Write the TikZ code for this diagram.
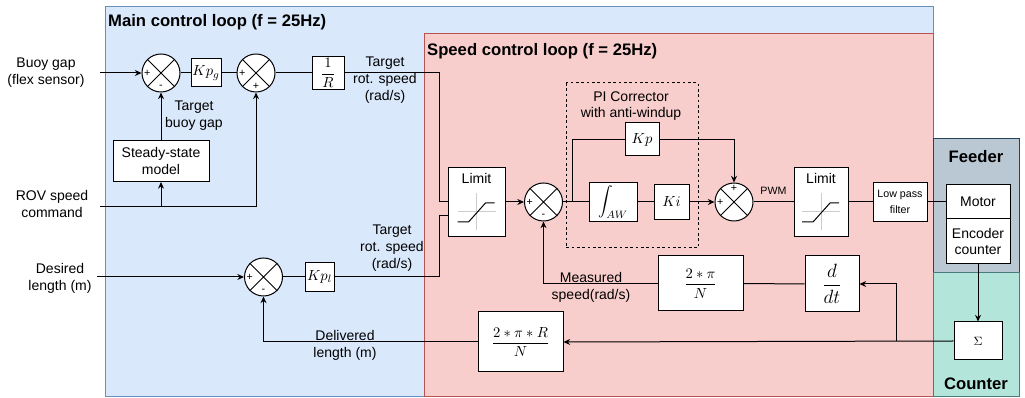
\documentclass[tikz,border=0pt]{standalone}
\usepackage{fontspec}
\setmainfont{Liberation Sans}
\usepackage{amsmath}
\usepackage{tikz}
\usetikzlibrary{arrows.meta}
\definecolor{mainfill}{HTML}{DAE8FC}
\definecolor{maindraw}{HTML}{6C8EBF}
\definecolor{speedfill}{HTML}{F8CECC}
\definecolor{speeddraw}{HTML}{B85450}
\definecolor{feedfill}{HTML}{BAC8D3}
\definecolor{feeddraw}{HTML}{23445D}
\definecolor{cntfill}{HTML}{B3E5DA}
\definecolor{cntdraw}{HTML}{4A7A80}

\begin{document}
\begin{tikzpicture}[x=0.75pt,y=-0.75pt,line width=0.75pt,
    font=\fontsize{10.5}{12.6}\selectfont,
    sum/.style={draw,circle,fill=white,minimum size=28.5pt,inner sep=0pt},
    blk/.style={draw,fill=white,inner sep=0pt,align=center},
    mth/.style={blk,font=\fontsize{11}{13}\selectfont},
    lbl/.style={align=center},
    ttl/.style={font=\fontsize{12.5}{14}\selectfont\bfseries},
    sgn/.style={font=\fontsize{8}{8}\selectfont,inner sep=0pt},
    arr/.style={-{Stealth[length=5pt,width=4.5pt]}}]
\useasboundingbox (0,0) rectangle (1025,398);

% loop areas
\filldraw[fill=mainfill,draw=maindraw] (105,7) rectangle (933,397);
\filldraw[fill=speedfill,draw=speeddraw] (424,34) rectangle (933,397);
\filldraw[fill=feedfill,draw=feeddraw] (933,139) rectangle (1019,273);
\filldraw[fill=cntfill,draw=cntdraw] (933,273) rectangle (1019,397);
\node[ttl,anchor=west,inner sep=2pt] (tmain) at (105,22) {Main control loop (f = 25Hz)};
\node[ttl,anchor=west,inner sep=2pt] (tspeed) at (424,51) {Speed control loop (f = 25Hz)};
\node[ttl] (tfeed) at (976,157) {Feeder};
\node[ttl] (tcnt) at (976,384) {Counter};
\draw[dashed,dash pattern=on 2pt off 2pt] (566,83) rectangle (698,248);

% inputs
\node[lbl] (lbuoy) at (46,73) {Buoy gap\\(flex sensor)};
\node[lbl] (lrov) at (52,204) {ROV speed\\command};
\node[lbl] (ldes) at (60,278) {Desired\\length (m)};
\coordinate (buoy) at (100,73);
\coordinate (rov) at (100,207);
\coordinate (des) at (97,277);

% main loop
\node[sum] (s1) at (161,73) {};
\node[mth,minimum width=22.5pt,minimum height=21pt] (kpg) at (206,73) {$Kp_g$};
\node[sum] (s2) at (256,73) {};
\node[mth,minimum width=24pt,minimum height=24.75pt] (oneR) at (328,73) {$\dfrac{1}{R}$};
\node[blk,minimum width=72pt,minimum height=30.75pt] (ss) at (161,161) {Steady-state\\model};
\node[sum] (s5) at (263.5,277) {};
\node[mth,minimum width=21.75pt,minimum height=21.75pt] (kpl) at (319.5,277) {$Kp_l$};
\node[lbl] (ltbg) at (194,116) {Target\\buoy gap};
\node[lbl] (ltr1) at (385,80) {Target\\rot. speed\\(rad/s)};
\node[lbl] (ltr2) at (392,248) {Target\\rot. speed\\(rad/s)};
\node[lbl] (ldel) at (345,345) {Delivered\\length (m)};

% speed loop
\node[blk,minimum width=42.75pt,minimum height=51.75pt] (lim1) at (476.5,202) {};
\node[below=1pt] at (lim1.north) {Limit};
\node[sum] (s3) at (543.5,202) {};
\node[lbl] (lpi) at (631,106) {PI Corrector\\with anti-windup};
\node[mth,minimum width=25.5pt,minimum height=24.75pt] (kp) at (642,139.5) {$Kp$};
\node[mth,minimum width=36pt,minimum height=29.25pt] (integ) at (613,202) {$\displaystyle\int_{AW}$};
\node[mth,minimum width=26.25pt,minimum height=26.25pt] (ki) at (671.5,202) {$Ki$};
\node[sum] (s4) at (734,202) {};
\node[blk,minimum width=40.5pt,minimum height=51.75pt] (lim2) at (821,202) {};
\node[below=1pt] at (lim2.north) {Limit};
\node[blk,minimum width=40.5pt,minimum height=29.25pt,font=\fontsize{8}{11.5}\selectfont] (lpf) at (900,202) {Low pass\\filter};
\node[blk,minimum width=48pt,minimum height=26.25pt] (motor) at (978,202) {Motor};
\node[blk,minimum width=48pt,minimum height=33.75pt] (enc) at (978,241.5) {Encoder\\counter};
\node[mth,font=\fontsize{9.5}{11}\selectfont,minimum width=36pt,minimum height=28.5pt] (sig) at (978,341) {$\Sigma$};
\node[mth,font=\fontsize{14}{16}\selectfont,minimum width=40.5pt,minimum height=42pt] (ddt) at (832,284) {$\dfrac{d}{dt}$};
\node[mth,font=\fontsize{10.5}{12}\selectfont,minimum width=63.75pt,minimum height=41.25pt] (tpn) at (700.5,283.5) {$\dfrac{2*\pi}{N}$};
\node[mth,font=\fontsize{10.5}{12}\selectfont,minimum width=63.75pt,minimum height=45pt] (rpn) at (520.5,342) {$\dfrac{2*\pi*R}{N}$};
\node[lbl] (lmeas) at (591,287) {Measured\\speed(rad/s)};

% sums: cross and signs
\foreach \s in {s1,s2,s3,s4,s5}
  \draw (\s.north west) -- (\s.south east) (\s.north east) -- (\s.south west);
\foreach \s in {s1,s2,s3,s4,s5}
  \node[sgn,right=1.5pt] at (\s.west) {+};
\foreach \s in {s1,s3,s5}
  \node[sgn,above=2.5pt] at (\s.south) {-};
\node[sgn,above=1.5pt] at (s2.south) {+};
\node[sgn,below=1.5pt] at (s4.north) {+};

% limit curves
\foreach \l in {lim1,lim2} {
  \begin{scope}[shift={(\l.center)}]
    \draw[black!20] (0,-9) -- (0,28) (-19,10) -- (19,10);
    \draw (-19,20) -- (-8,20) -- (9,1) -- (18,1);
  \end{scope}
}

% connections
\coordinate (ta) at (439,73);
\coordinate (tb) at (439,277);
\coordinate (pb) at (572,202);
\coordinate (fb) at (896,341);
\draw[arr] (buoy) -- (s1.west);
\draw (s1.east) -- (kpg.west) (kpg.east) -- (s2.west) (s2.east) -- (oneR.west);
\draw[arr] (ss.north) -- (s1.south);
\draw[arr] (rov) -| (s2.south);
\draw[arr] (ss.south |- rov) -- (ss.south);
\draw[arr] (des) -- (s5.west);
\draw (s5.east) -- (kpl.west);
\draw (oneR.east) -- (ta) |- (lim1.west);
\draw (kpl.east) -- (tb) |- ([yshift=-10.5pt]lim1.west);
\draw[arr] (lim1.east) -- (s3.west);
\draw (s3.east) -- (integ.west) (integ.east) -- (ki.west);
\draw (pb) |- (kp.west);
\draw[arr] (ki.east) -- (s4.west);
\draw[arr] (kp.east) -| (s4.north);
\draw (s4.east) -- node[above=2pt,font=\fontsize{8}{9}\selectfont] (lpwm) {PWM} (lim2.west);
\draw (lim2.east) -- (lpf.west) (lpf.east) -- (motor.west);
\draw[arr] (enc.south) -- (sig.north);
\draw[arr] (sig.west) -- (rpn.east);
\draw[arr] (fb) |- (ddt.east);
\draw (ddt.west) -- (tpn.east);
\draw[arr] (tpn.west) -| (s3.south);
\draw[arr] (rpn.west) -| (s5.south);
\end{tikzpicture}
\end{document}
